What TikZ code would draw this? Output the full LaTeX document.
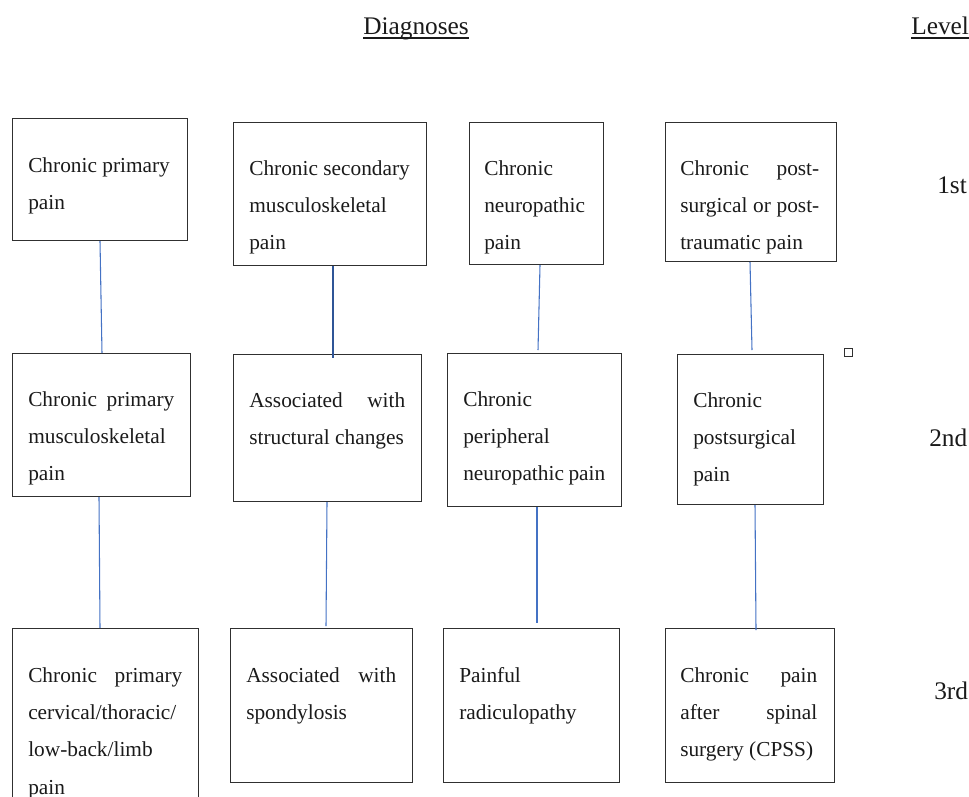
\documentclass[tikz,border=0pt]{standalone}
\usepackage{fontspec}
\setmainfont{Liberation Serif}
\usetikzlibrary{calc}
\definecolor{edgeblue}{HTML}{4472C4}
\definecolor{darkblue}{HTML}{2F5597}
\definecolor{boxline}{HTML}{303030}
\definecolor{inkc}{HTML}{1A1A1A}
\newcommand{\jl}[1]{\makebox[\linewidth][s]{#1}}
\newcommand{\boxtext}[2]{\parbox[t]{#1}{\fontsize{16}{28.1}\selectfont #2}}
\tikzset{
  diagbox/.style={draw=boxline, line width=0.8pt, inner sep=0pt, anchor=north west},
  boxlabel/.style={anchor=base west, inner sep=0pt, text=inkc},
  conn/.style={draw=edgeblue, line width=0.8pt},
  connthick/.style={draw=darkblue, line width=1.5pt},
  headtxt/.style={anchor=base west, inner sep=0pt, text=inkc, font=\fontsize{19}{22}\selectfont},
  levtxt/.style={anchor=base west, inner sep=0pt, text=inkc, font=\fontsize{19}{22}\selectfont},
  uline/.style={draw=inkc, line width=1.1pt}
}
\begin{document}
\begin{tikzpicture}[x=0.75pt, y=-0.75pt]
\useasboundingbox (0,0) rectangle (969,796);

% headings
\node[headtxt] (diag) at (363,34) {Diagnoses};
\node[headtxt] (lev) at (911,34) {Level};
\draw[uline] ($(diag.base west)+(0,4)$) -- ($(diag.base east)+(0,4)$);
\draw[uline] ($(lev.base west)+(0,4)$) -- ($(lev.base east)+(0,4)$);

% level labels
\node[levtxt] (l1) at (937,193) {1st};
\node[levtxt] (l2) at (929,446) {2nd};
\node[levtxt] (l3) at (934,699) {3rd};

% row 1
\node[diagbox, minimum width=131.25pt, minimum height=91.5pt] (b11) at (12,118) {};
\node[diagbox, minimum width=144.75pt, minimum height=107.25pt] (b12) at (233,122) {};
\node[diagbox, minimum width=100.5pt, minimum height=106.5pt] (b13) at (469,122) {};
\node[diagbox, minimum width=128.25pt, minimum height=104.25pt] (b14) at (665,122) {};

% row 2
\node[diagbox, minimum width=133.5pt, minimum height=107.25pt] (b21) at (12,353) {};
\node[diagbox, minimum width=141pt, minimum height=110.25pt] (b22) at (233,354) {};
\node[diagbox, minimum width=130.5pt, minimum height=114.75pt] (b23) at (447,353) {};
\node[diagbox, minimum width=109.5pt, minimum height=112.5pt] (b24) at (677,354) {};

% row 3
\node[diagbox, minimum width=139.5pt, minimum height=150pt] (b31) at (12,628) {};
\node[diagbox, minimum width=136.5pt, minimum height=115.5pt] (b32) at (230,628) {};
\node[diagbox, minimum width=132pt, minimum height=115.5pt] (b33) at (443,628) {};
\node[diagbox, minimum width=126.75pt, minimum height=115.5pt] (b34) at (665,628) {};

% small square
\node[draw=boxline, line width=0.6pt, minimum size=6pt, inner sep=0pt] (sq) at (848,352) {};

% texts
\node[boxlabel] (t11) at ($(b11.north west)+(16,54)$) {\boxtext{107.25pt}{Chronic primary\\pain}};
\node[boxlabel] (t12) at ($(b12.north west)+(16,53)$) {\boxtext{120.75pt}{Chronic secondary\\musculoskeletal\\pain}};
\node[boxlabel] (t13) at ($(b13.north west)+(15,53)$) {\boxtext{76.5pt}{Chronic\\neuropathic\\pain}};
\node[boxlabel] (t14) at ($(b14.north west)+(15,53)$) {\boxtext{104.25pt}{\jl{Chronic post-}\\\jl{surgical or post-}\\traumatic pain}};

\node[boxlabel] (t21) at ($(b21.north west)+(16,53)$) {\boxtext{109.5pt}{\jl{Chronic primary}\\musculoskeletal\\pain}};
\node[boxlabel] (t22) at ($(b22.north west)+(16,53)$) {\boxtext{117pt}{\jl{Associated with}\\structural changes}};
\node[boxlabel] (t23) at ($(b23.north west)+(16,53)$) {\boxtext{106.5pt}{Chronic\\peripheral\\neuropathic pain}};
\node[boxlabel] (t24) at ($(b24.north west)+(16,53)$) {\boxtext{85.5pt}{Chronic\\postsurgical\\pain}};

\node[boxlabel] (t31) at ($(b31.north west)+(16,54)$) {\boxtext{115.5pt}{\jl{Chronic primary}\\cervical/thoracic/\\low-back/limb\\pain}};
\node[boxlabel] (t32) at ($(b32.north west)+(16,54)$) {\boxtext{112.5pt}{\jl{Associated with}\\spondylosis}};
\node[boxlabel] (t33) at ($(b33.north west)+(16,54)$) {\boxtext{108pt}{Painful\\radiculopathy}};
\node[boxlabel] (t34) at ($(b34.north west)+(15,54)$) {\boxtext{102.75pt}{\jl{Chronic pain}\\\jl{after spinal}\\surgery (CPSS)}};

% connectors
\draw[conn] ($(b11.south west)+(88,0)$) -- ($(b21.north west)+(90,0)$);
\draw[connthick] ($(b12.south west)+(100,0)$) -- ($(b22.north west)+(100,4)$);
\draw[conn] ($(b13.south west)+(71,0)$) -- ($(b23.north west)+(91,-3)$);
\draw[conn] ($(b14.south west)+(85,0)$) -- ($(b24.north west)+(75,-4)$);

\draw[conn] ($(b21.south west)+(87,0)$) -- ($(b31.north west)+(88,0)$);
\draw[conn] ($(b22.south west)+(94,0)$) -- ($(b32.north west)+(96,-2)$);
\draw[conn] ($(b23.south west)+(90,0)$) -- ($(b33.north west)+(94,-5)$);
\draw[conn] ($(b24.south west)+(78,0)$) -- ($(b34.north west)+(91,2)$);
\end{tikzpicture}
\end{document}
